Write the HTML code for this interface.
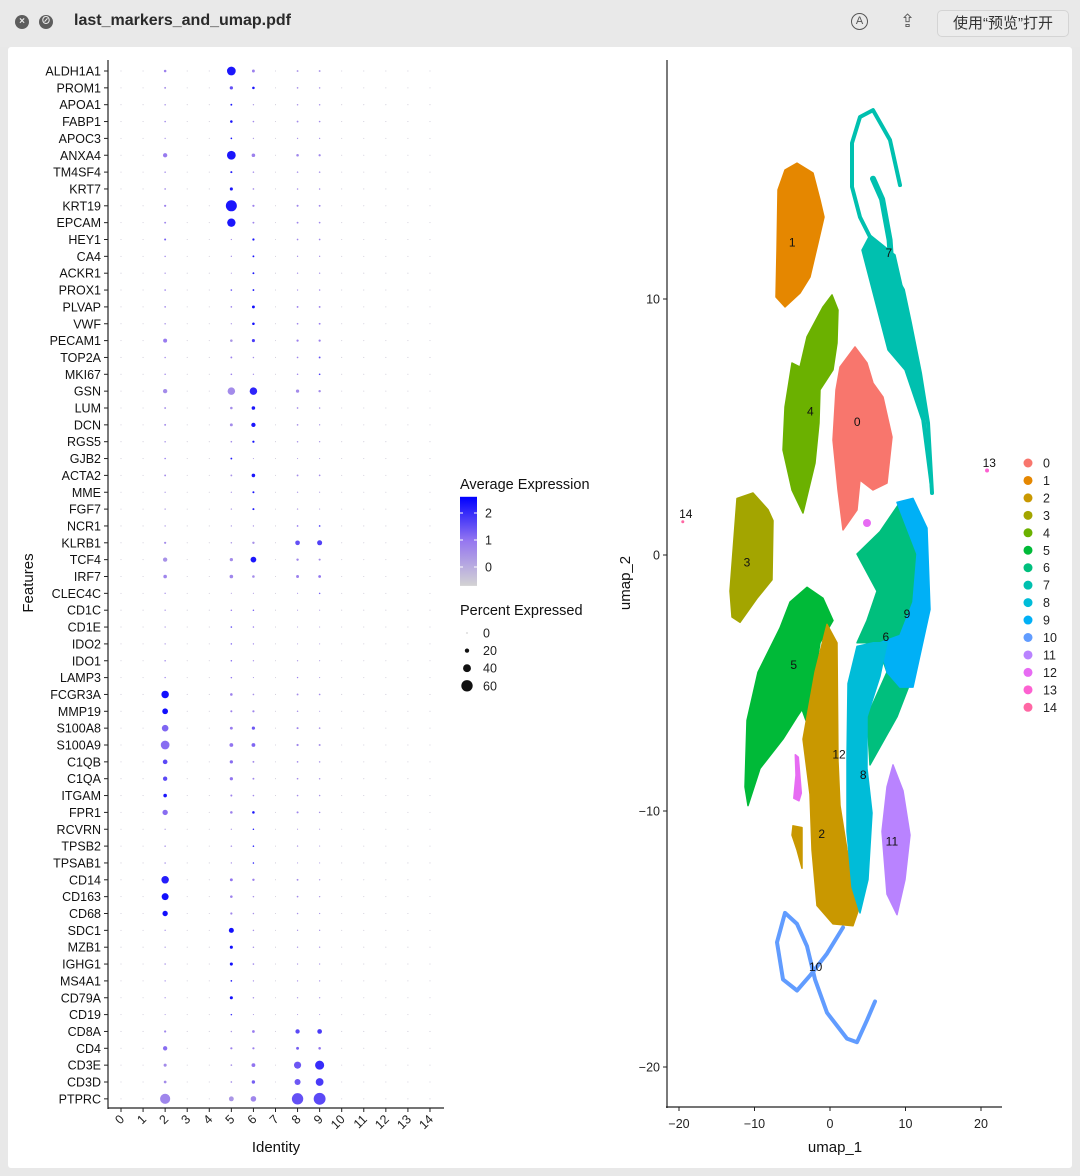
<!DOCTYPE html>
<html><head><meta charset="utf-8">
<style>
body{margin:0;width:1080px;height:1176px;background:#e8e8e8;position:relative;overflow:hidden;font-family:"Liberation Sans","Noto Sans CJK SC",sans-serif;}
#titlebar{position:absolute;left:0;top:0;width:1080px;height:47px;background:#e9e9e9;}
.wbtn{position:absolute;top:15px;width:14px;height:14px;border-radius:50%;background:#5d5d5d;color:#e9e9e9;font-size:10px;line-height:14px;text-align:center;font-weight:bold;}
#title{position:absolute;left:74px;top:12px;font-size:16px;font-weight:bold;color:#2a2a2a;}
#openbtn{position:absolute;left:937px;top:10px;width:130px;height:25px;border:1px solid #d4d4d4;border-radius:5px;background:#ececec;font-size:15px;line-height:25px;text-align:center;color:#333;}
#page{position:absolute;left:8px;top:47px;width:1064px;height:1121px;background:#fff;border-radius:3px;}
svg{position:absolute;left:0;top:0;}
</style></head><body>
<div id="titlebar">
<div class="wbtn" style="left:15px">×</div>
<div class="wbtn" style="left:39px">⊘</div>
<div id="title">last_markers_and_umap.pdf</div>
<div style="position:absolute;left:851px;top:13px;width:15px;height:15px;border:1.5px solid #555;border-radius:50%;font-size:11px;line-height:15px;text-align:center;color:#555">A</div>
<div style="position:absolute;left:900px;top:11px;font-size:18px;color:#555">⇪</div>
<div id="openbtn">使用“预览”打开</div>
</div>
<div id="page"></div>
<svg id="chart" width="1080" height="1176"></svg>
<script>
const genes=["ALDH1A1","PROM1","APOA1","FABP1","APOC3","ANXA4","TM4SF4","KRT7","KRT19","EPCAM","HEY1","CA4","ACKR1","PROX1","PLVAP","VWF","PECAM1","TOP2A","MKI67","GSN","LUM","DCN","RGS5","GJB2","ACTA2","MME","FGF7","NCR1","KLRB1","TCF4","IRF7","CLEC4C","CD1C","CD1E","IDO2","IDO1","LAMP3","FCGR3A","MMP19","S100A8","S100A9","C1QB","C1QA","ITGAM","FPR1","RCVRN","TPSB2","TPSAB1","CD14","CD163","CD68","SDC1","MZB1","IGHG1","MS4A1","CD79A","CD19","CD8A","CD4","CD3E","CD3D","PTPRC"];
const identities=[0,1,2,3,4,5,6,7,8,9,10,11,12,13,14];
const basePct=1.5, baseExp=-0.5;
const pct2=[10,6,4,5,3,20,4,5,8,6,7,4,3,5,5,4,18,4,4,20,6,6,4,4,6,3,3,3,8,20,16,3,3,3,3,4,3,38,28,33,45,22,20,16,26,3,4,4,38,35,26,3,3,4,3,3,2,8,20,13,11,53];
const exp2=[.8,.5,.5,.6,.5,.9,.6,.6,.8,.7,1.3,.6,.5,.8,.6,.5,.9,.6,.6,.6,.6,.6,.5,1.0,.6,.4,.4,.4,.6,.5,.7,.6,.5,.4,.4,.7,.7,2.4,2.4,1.2,1.1,1.6,1.6,2.3,1.1,.3,.5,.5,2.2,2.4,2.4,.5,.3,.5,.6,.5,.3,.7,1.1,.6,.6,.7];
const pct5=[45,14,6,10,5,45,7,13,58,43,3,3,2,5,5,3,10,6,5,38,10,12,5,6,6,3,3,3,4,14,16,2,4,5,4,4,4,10,7,12,17,14,14,7,10,3,4,3,12,10,8,24,13,13,5,13,4,4,8,5,5,23];
const exp5=[2.3,1.5,2.3,2.3,2.3,2.3,2.2,2.3,2.3,2.3,.6,.5,.4,1.5,.7,.4,.4,.8,.8,.6,.6,.6,.6,2.2,.5,.4,.4,.3,.4,.6,.7,.2,.9,1.5,1.2,1.2,1.0,.8,.8,.9,1.0,1.1,1.0,.8,.8,.4,.5,.5,1.0,.8,.7,2.4,2.4,2.4,2.2,2.4,2.0,.4,.8,.5,.5,.4];
const pct6=[12,10,3,5,3,16,4,5,8,6,8,6,6,6,12,10,13,4,3,38,16,20,8,2,16,7,7,3,9,28,10,2,4,4,3,3,2,5,8,14,17,6,6,5,10,4,4,4,9,4,4,4,4,5,3,4,2,11,8,17,15,27];
const exp6=[.8,2.3,.3,.6,.3,.8,.6,.6,.8,.7,2.3,2.3,2.3,2.3,2.4,2.4,1.8,.6,.6,2.1,2.3,2.3,2.4,.3,2.3,2.3,2.2,.4,.5,2.3,.6,.3,1.3,.9,.7,.6,.4,.5,.7,1.4,1.2,.6,.7,.6,2.3,2.2,2.3,2.2,.8,.5,.5,.5,.5,.7,.5,.5,.3,.9,.8,1.0,1.3,.7];
const pct8=[6,5,4,6,3,10,4,4,7,6,5,3,3,3,6,5,8,5,4,14,5,5,4,2,6,3,3,5,22,9,12,2,2,2,2,3,3,6,4,7,8,5,5,5,7,2,3,2,6,5,4,3,3,3,3,3,2,20,12,36,30,60];
const exp8=[.5,.5,.5,.6,.5,.7,.6,.6,.7,.7,.7,.5,.5,.5,.8,.7,.8,.7,.7,.6,.6,.5,.5,.3,.6,.4,.3,1.0,1.5,.7,.8,.5,.3,.2,.2,.4,.8,.6,.5,.7,.7,.6,.6,.6,.7,.3,.4,.3,.6,.6,.5,.4,.4,.4,.5,.4,.2,1.6,1.3,1.4,1.4,1.5];
const pct9=[6,4,4,5,3,8,4,4,6,5,5,3,3,4,6,6,8,6,5,9,4,3,3,2,5,2,2,5,24,7,11,4,2,2,2,2,2,5,2,5,7,4,4,4,4,2,2,2,3,3,3,3,3,3,3,3,2,22,10,47,40,63];
const exp9=[.5,.5,.5,.6,.5,.7,.6,.6,.7,.7,.7,.5,.5,.6,.8,.9,.8,1.5,1.8,.6,.5,.4,.4,.3,.6,.3,.3,1.8,1.7,.6,1.0,1.3,.3,.2,.2,.3,.3,.6,.3,.5,.5,.5,.5,.5,.5,.3,.3,.3,.4,.4,.4,.4,.4,.4,.5,.4,.2,1.8,1.0,2.0,1.8,1.6];
const expTicks=[2,1,0];
const pctTicks=[0,20,40,60];
// UMAP
const clusterColors=["#F8766D","#E58700","#C99800","#A3A500","#6BB100","#00BA38","#00BF7D","#00C0AF","#00BCD8","#00B0F6","#619CFF","#B983FF","#E76BF3","#FD61D1","#FF67A4"];
const umapXTicks=[-20,-10,0,10,20];
const umapYTicks=[10,0,-10,-20];
const blob0=[[3.31,8.13],[4.90,7.50],[5.70,6.72],[7.02,6.17],[8.21,4.61],[7.55,2.81],[5.70,2.54],[3.97,2.93],[3.58,1.76],[1.72,0.98],[1.06,2.54],[0.40,4.49],[0.79,6.45],[1.32,7.34]];
const blob1=[[-4.37,15.31],[-2.25,14.92],[-1.32,13.87],[-0.79,13.20],[-1.59,12.19],[-2.65,10.86],[-3.97,10.23],[-5.96,9.69],[-7.15,10.08],[-7.02,11.91],[-6.89,14.26],[-5.96,15.04]];
const blob2=[[-0.40,-2.71],[0.93,-3.43],[1.06,-8.05],[1.32,-9.79],[2.25,-11.52],[3.97,-13.69],[3.05,-14.48],[0.40,-14.41],[-1.72,-13.69],[-2.38,-11.52],[-2.65,-9.35],[-3.58,-7.19],[-1.99,-4.58]];
const blob2b=[[-4.90,-10.58],[-3.71,-10.65],[-3.71,-12.24],[-4.37,-11.52],[-5.03,-10.94]];
const blob3=[[-10.20,2.42],[-8.21,1.77],[-7.55,1.34],[-7.68,-0.97],[-9.67,-1.69],[-11.92,-2.63],[-12.98,-2.42],[-13.25,-1.41],[-12.32,2.21]];
const blob4=[[0.26,10.16],[1.06,9.57],[0.93,8.28],[0.40,7.23],[-1.32,6.45],[-1.46,5.16],[-1.99,3.59],[-3.58,1.64],[-5.03,2.54],[-6.23,4.10],[-5.96,5.78],[-5.03,7.50],[-3.97,7.34],[-3.05,8.52],[-0.93,9.69]];
const blob5=[[-3.05,-1.26],[-0.93,-1.69],[0.40,-2.56],[-1.32,-3.43],[-2.25,-5.16],[-2.65,-6.90],[-3.71,-6.03],[-4.37,-6.32],[-6.23,-7.19],[-9.27,-8.34],[-10.86,-9.79],[-11.26,-9.06],[-10.99,-6.46],[-9.54,-4.58],[-6.62,-2.85],[-5.30,-1.84]];
const blob6=[[3.58,0.04],[6.62,0.91],[9.27,2.06],[11.52,1.63],[12.85,-1.41],[11.52,-4.30],[8.87,-6.32],[5.30,-8.20],[4.90,-6.32],[7.55,-4.58],[6.23,-3.43],[3.58,-3.43],[4.90,-2.56],[6.23,-1.41]];
const blob7=[[5.30,12.50],[8.61,11.72],[10.86,8.79],[12.58,5.27],[13.38,2.54],[12.19,5.27],[9.93,7.23],[7.68,8.01],[5.96,9.96],[4.24,11.91]];
const line7a=[[9.27,14.45],[7.95,16.21],[5.70,17.38],[3.97,17.11],[2.91,16.09],[2.91,14.38],[3.97,13.20],[5.70,12.19],[7.95,11.25],[9.67,10.35],[10.60,9.06],[11.92,7.11],[12.98,5.16],[13.51,2.42]];
const line7b=[[5.7,14.7],[6.9,13.9],[7.9,12.3],[8.3,10.5],[8.1,8.0]];
const blob8=[[3.58,-3.57],[5.70,-3.43],[7.55,-3.43],[6.62,-4.73],[4.90,-6.32],[4.90,-8.34],[5.56,-10.08],[5.03,-12.68],[3.97,-13.98],[2.91,-12.97],[2.25,-10.80],[2.25,-7.91],[2.38,-5.02]];
const blob9=[[8.87,2.06],[10.99,2.21],[12.85,1.05],[13.25,-2.13],[10.99,-5.16],[9.27,-5.16],[7.55,-4.58],[6.62,-3.43],[9.27,-3.14],[10.99,-1.84],[11.52,0.04]];
const line10=[[1.72,-14.55],[-0.40,-15.57],[-2.65,-16.43],[-4.37,-17.01],[-6.23,-16.58],[-7.02,-15.13],[-5.96,-13.98],[-4.37,-14.41],[-3.05,-15.28],[-1.99,-16.58],[-0.40,-17.88],[2.25,-18.89],[3.58,-19.03],[4.90,-18.17],[5.96,-17.44]];
const blob11=[[8.34,-8.20],[9.67,-9.21],[10.60,-10.94],[9.93,-12.68],[8.87,-14.05],[7.55,-13.25],[6.89,-10.80],[7.55,-9.06]];
const blob12=[[-4.6,-7.8],[-4.2,-7.9],[-3.8,-9.3],[-4.1,-9.6],[-4.8,-9.5],[-4.5,-8.6]];
const spot12=[4.9,1.25];
const spot13=[20.8,3.3];
const spot14=[-19.5,1.3];
const labelNames=["0","1","2","3","4","5","6","7","8","9","10","11","12","13","14"];
const labelX=[3.6,-5.0,-1.1,-11,-2.6,-4.8,7.4,7.8,4.4,10.2,-1.9,8.2,1.2,21.1,-19.1];
const labelY=[5.2,12.2,-10.9,-0.3,5.6,-4.3,-3.2,11.8,-8.6,-2.3,-16.1,-11.2,-7.8,3.6,1.6];

const NS="http://www.w3.org/2000/svg";
const svg=document.getElementById('chart');
function mk(tag,attrs,parent,text){const e=document.createElementNS(NS,tag);for(const k in attrs)e.setAttribute(k,attrs[k]);if(text!==undefined)e.textContent=text;(parent||svg).appendChild(e);return e;}
// dot plot scales
const xId=i=>121+i*22.07;
const yGene=i=>71+i*16.85;
const rPct=p=>0.4+p*0.088;
function lerp(a,b,t){return a.map((v,i)=>Math.round(v+(b[i]-v)*t));}
function expColor(e){let t=(e+0.7)/3.3;t=Math.max(0,Math.min(1,t));const c0=[211,211,211],c1=[150,120,240],c2=[0,0,255];const c=t<0.5?lerp(c0,c1,t/0.5):lerp(c1,c2,(t-0.5)/0.5);return `rgb(${c[0]},${c[1]},${c[2]})`;}
const F='"Liberation Sans",sans-serif';
const dp=mk('g',{});


// axes
const ya=mk('line',{x1:108,y1:60,x2:108,y2:1109,stroke:'#222','stroke-width':1.2},dp);


const xa=mk('line',{x1:108,y1:1108,x2:444,y2:1108,stroke:'#222','stroke-width':1.2},dp);


const activeCols={2:[pct2,exp2],5:[pct5,exp5],6:[pct6,exp6],8:[pct8,exp8],9:[pct9,exp9]};
genes.forEach((g,i)=>{
  const y=yGene(i);
  mk('line',{x1:104,y1:y,x2:108,y2:y,stroke:'#222'},dp);
  const t=mk('text',{x:101,y:y+4.5,'text-anchor':'end','font-size':12.5,'font-family':F,fill:'#111'},dp,g);
  
  
  identities.forEach(j=>{
    let p=basePct,e=baseExp;
    if(activeCols[j]){p=activeCols[j][0][i];e=activeCols[j][1][i];}
    const c=mk('circle',{cx:xId(j),cy:y,r:rPct(p),fill:expColor(e)},dp);
    
    
  });
});
identities.forEach(j=>{
  const x=xId(j);
  mk('line',{x1:x,y1:1108,x2:x,y2:1112,stroke:'#222'},dp);
  const t=mk('text',{x:x+4,y:1120,'text-anchor':'end','font-size':12.5,'font-family':F,fill:'#222',transform:`rotate(-45 ${x+4} 1120)`},dp,String(j));
  
  
});
let t=mk('text',{x:276,y:1152,'text-anchor':'middle','font-size':15,'font-family':F,fill:'#111'},dp,'Identity');


t=mk('text',{x:33,y:583,'text-anchor':'middle','font-size':15,'font-family':F,fill:'#111',transform:'rotate(-90 33 583)'},dp,'Features');


// legends
const lg=mk('g',{});


t=mk('text',{x:460,y:489,'font-size':14.5,'font-family':F,fill:'#111'},lg,'Average Expression');


const defs=mk('defs',{});
const gr=mk('linearGradient',{id:'cb',x1:0,y1:1,x2:0,y2:0},defs);
for(let k=0;k<=10;k++){mk('stop',{offset:k/10,'stop-color':expColor(-0.7+3.3*k/10)},gr);}
const cbY=e=>567-(e)*27;
const cb=mk('rect',{x:460,y:cbY(2.6),width:17,height:cbY(-0.7)-cbY(2.6),fill:'url(#cb)'},lg);


expTicks.forEach(v=>{const y=cbY(v);mk('line',{x1:460,y1:y,x2:463,y2:y,stroke:'#fff'},lg);mk('line',{x1:474,y1:y,x2:477,y2:y,stroke:'#fff'},lg);
  const tt=mk('text',{x:485,y:y+4.5,'font-size':12.5,'font-family':F,fill:'#222'},lg,String(v));
  
  });
t=mk('text',{x:460,y:615,'font-size':14.5,'font-family':F,fill:'#111'},lg,'Percent Expressed');


pctTicks.forEach((v,k)=>{const y=633+k*17.6;
  const c=mk('circle',{cx:467,cy:y,r:rPct(v),fill:'#111'},lg);
  
  
  const tt=mk('text',{x:483,y:y+4.5,'font-size':12.5,'font-family':F,fill:'#222'},lg,String(v));
  
  });
// UMAP
const ux=u=>830+u*7.55;
const uy=v=>555-v*25.6;
const um=mk('g',{});


const pts=a=>a.map(p=>ux(p[0]).toFixed(1)+','+uy(p[1]).toFixed(1)).join(' ');
function blob(arr,ci,name){const p=mk('polygon',{points:pts(arr),fill:clusterColors[ci],stroke:clusterColors[ci],'stroke-width':1.5,'stroke-linejoin':'round'},um);
  
  }
function line(arr,ci,w,name){const p=mk('polyline',{points:pts(arr),fill:'none',stroke:clusterColors[ci],'stroke-width':w,'stroke-linejoin':'round','stroke-linecap':'round'},um);
  
  }
line(line7a,7,4,'cluster-7-arc');
line(line7b,7,6,'cluster-7-branch');
blob(blob7,7,'cluster-7-body');
blob(blob1,1,'cluster-1');
blob(blob4,4,'cluster-4');
blob(blob0,0,'cluster-0');
blob(blob3,3,'cluster-3');
blob(blob5,5,'cluster-5');
blob(blob6,6,'cluster-6');
blob(blob9,9,'cluster-9');
blob(blob2,2,'cluster-2');
blob(blob2b,2,'cluster-2-fragment');
blob(blob8,8,'cluster-8');
blob(blob11,11,'cluster-11');
blob(blob12,12,'cluster-12');
line(line10,10,4,'cluster-10');
[[spot12,12,4],[spot13,13,2],[spot14,14,1.5]].forEach(([s,ci,r])=>{const c=mk('circle',{cx:ux(s[0]),cy:uy(s[1]),r:r,fill:clusterColors[ci]},um);
  
  });
labelNames.forEach((n,i)=>{const tt=mk('text',{x:ux(labelX[i]),y:uy(labelY[i])+4,'text-anchor':'middle','font-size':12,'font-family':F,fill:'#111'},um,n);
  
  });
let l=mk('line',{x1:667,y1:60,x2:667,y2:1108,stroke:'#222','stroke-width':1.2},um);


l=mk('line',{x1:666,y1:1107,x2:1002,y2:1107,stroke:'#222','stroke-width':1.2},um);


umapXTicks.forEach(v=>{const x=ux(v);mk('line',{x1:x,y1:1107,x2:x,y2:1111,stroke:'#222'},um);
  const tt=mk('text',{x:x,y:1128,'text-anchor':'middle','font-size':12.5,'font-family':F,fill:'#222'},um,v<0?'−'+(-v):String(v));
  
  });
umapYTicks.forEach(v=>{const y=uy(v);mk('line',{x1:663,y1:y,x2:667,y2:y,stroke:'#222'},um);
  const tt=mk('text',{x:660,y:y+4.5,'text-anchor':'end','font-size':12.5,'font-family':F,fill:'#222'},um,v<0?'−'+(-v):String(v));
  
  });
t=mk('text',{x:835,y:1152,'text-anchor':'middle','font-size':15,'font-family':F,fill:'#111'},um,'umap_1');


t=mk('text',{x:630,y:583,'text-anchor':'middle','font-size':15,'font-family':F,fill:'#111',transform:'rotate(-90 630 583)'},um,'umap_2');


labelNames.forEach((n,i)=>{const y=463+i*17.45;
  const c=mk('circle',{cx:1028,cy:y,r:4.5,fill:clusterColors[i]},um);
  
  
  const tt=mk('text',{x:1043,y:y+4.5,'font-size':12.5,'font-family':F,fill:'#222'},um,n);
  
  });
</script>
</body></html>
